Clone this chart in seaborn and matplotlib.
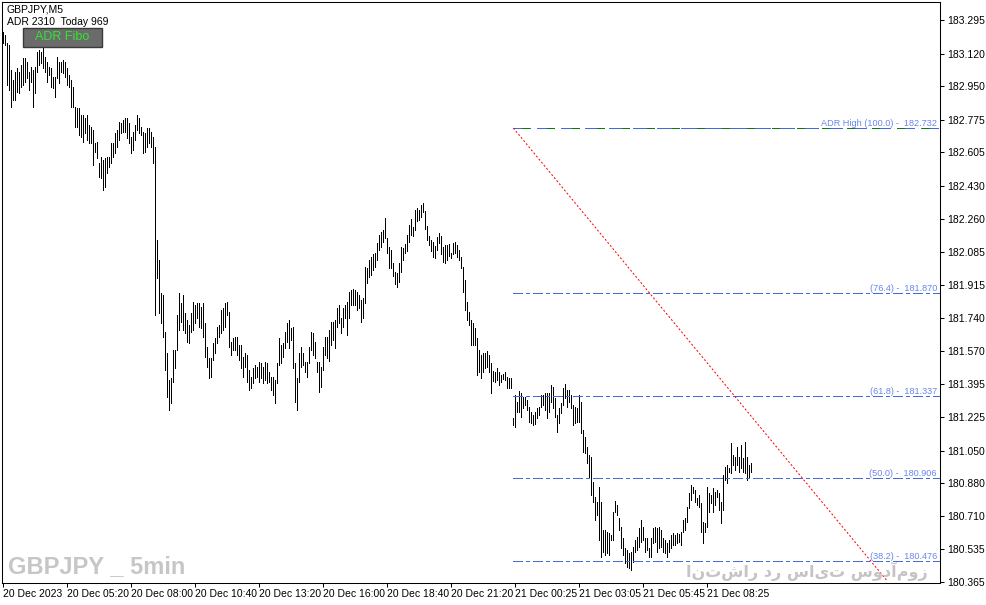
import numpy as np
import pandas as pd
import matplotlib
matplotlib.use("Agg")
import matplotlib.pyplot as plt
import matplotlib.transforms as mtransforms
from matplotlib.patches import Rectangle
import seaborn as sns

# ---------------- data ----------------
highs = [
183.232,183.217,183.174,183.164,183.034,182.982,183.024,183.044,183.024,183.060,
183.096,183.096,183.076,183.024,183.050,183.034,183.050,183.128,183.138,183.128,
183.154,183.102,183.076,183.050,183.044,182.998,182.998,183.102,183.076,183.076,
183.086,183.076,183.044,183.008,182.982,182.946,182.842,182.836,182.836,182.799,
182.799,182.784,182.799,182.747,182.737,182.721,182.654,182.659,182.549,182.581,
182.565,182.575,182.581,182.581,182.654,182.654,182.706,182.721,182.763,182.758,
182.773,182.784,182.784,182.758,182.685,182.711,182.747,182.799,182.784,182.737,
182.711,182.706,182.732,182.732,182.711,182.685,182.633,182.148,182.043,181.871,
181.861,181.668,181.558,181.418,181.428,181.574,181.574,181.757,181.871,181.819,
181.861,181.767,181.731,181.705,181.767,181.825,181.809,181.819,181.819,181.798,
181.819,181.715,181.590,181.532,181.532,181.611,181.637,181.694,181.705,181.783,
181.793,181.819,181.825,181.772,181.616,181.637,181.642,181.642,181.600,181.600,
181.537,181.558,181.548,181.470,181.434,181.480,181.496,181.486,181.512,181.506,
181.486,181.512,181.506,181.460,181.434,181.434,181.418,181.506,181.637,181.600,
181.611,181.668,181.715,181.731,181.689,181.694,181.506,181.428,181.558,181.590,
181.558,181.512,181.512,181.590,181.668,181.663,181.616,181.512,181.512,181.486,
181.590,181.642,181.642,181.678,181.720,181.720,181.731,181.793,181.809,181.741,
181.793,181.809,181.825,181.877,181.887,181.892,181.887,181.877,181.861,181.835,
181.845,182.007,182.002,182.043,182.059,182.075,182.080,182.132,182.174,182.190,
182.200,182.262,182.158,182.111,182.095,182.028,181.981,181.976,182.028,182.111,
182.106,182.127,182.174,182.226,182.257,182.215,182.304,182.314,182.304,182.330,
182.341,182.299,182.221,182.169,182.148,182.137,182.116,182.163,182.184,182.169,
182.111,182.122,182.122,182.127,182.080,182.132,182.137,182.122,182.095,182.059,
182.007,181.939,181.825,181.772,181.731,181.715,181.689,181.637,181.574,181.548,
181.558,181.558,181.569,181.548,181.506,181.465,181.460,181.480,181.460,181.444,
181.449,181.460,181.434,181.428,181.428,181.220,181.340,181.303,181.361,181.350,
181.329,181.329,181.313,181.277,181.251,181.235,181.251,181.272,181.277,181.340,
181.340,181.350,181.350,181.350,181.392,181.381,181.324,181.235,181.272,181.298,
181.376,181.397,181.366,181.366,181.340,181.288,181.277,181.272,181.340,181.303,
181.157,181.121,181.069,181.027,181.016,180.886,180.808,180.782,180.860,180.782,
180.636,180.636,180.625,180.620,180.610,180.730,180.787,180.766,180.699,180.652,
180.594,180.542,180.531,180.516,180.521,180.547,180.584,180.599,180.646,180.688,
180.652,180.594,180.594,180.542,180.594,180.646,180.652,180.646,180.652,180.636,
180.594,180.584,180.568,180.584,180.610,180.620,180.610,180.620,180.615,180.625,
180.688,180.699,180.756,180.829,180.870,180.860,180.844,180.803,180.818,180.777,
180.678,180.672,180.860,180.829,180.818,180.855,180.834,180.844,180.829,180.782,
180.922,180.964,180.975,180.959,181.089,181.027,181.016,181.069,181.016,181.079,
181.011,181.095,181.016,180.975,180.985]

lows = [
183.174,183.164,182.956,182.930,182.842,182.878,182.878,182.920,182.914,182.946,
182.956,182.972,182.992,182.930,182.972,182.842,182.914,183.024,183.060,183.070,
183.044,183.024,182.972,183.008,182.946,182.940,182.893,182.992,182.966,183.024,
183.018,182.998,182.956,182.946,182.842,182.842,182.737,182.737,182.695,182.685,
182.659,182.706,182.669,182.654,182.654,182.539,182.607,182.575,182.477,182.471,
182.408,182.424,182.497,182.529,182.549,182.581,182.601,182.633,182.669,182.706,
182.711,182.711,182.680,182.654,182.601,182.617,182.669,182.721,182.706,182.695,
182.601,182.607,182.633,182.654,182.633,182.549,181.757,181.949,181.767,181.715,
181.642,181.470,181.329,181.261,181.298,181.408,181.480,181.574,181.678,181.720,
181.678,181.663,181.616,181.611,181.668,181.678,181.715,181.741,181.694,181.689,
181.642,181.537,181.486,181.428,181.434,181.522,181.558,181.611,181.642,181.663,
181.678,181.694,181.757,181.590,181.548,181.574,181.574,181.548,181.522,181.480,
181.434,181.486,181.408,181.366,181.376,181.402,181.428,181.434,181.408,181.428,
181.402,181.418,181.402,181.408,181.366,181.340,181.298,181.402,181.496,181.506,
181.537,181.585,181.616,181.585,181.626,181.480,181.303,181.261,181.408,181.486,
181.496,181.460,181.434,181.506,181.574,181.548,181.532,181.460,181.355,181.381,
181.470,181.548,181.532,181.517,181.600,181.626,181.585,181.694,181.715,181.663,
181.694,181.741,181.652,181.741,181.809,181.809,181.809,181.783,181.793,181.720,
181.741,181.819,181.923,181.955,181.965,181.991,182.007,182.043,182.095,182.111,
182.137,182.158,182.080,182.002,182.002,181.960,181.918,181.903,181.929,181.981,
182.043,182.080,182.090,182.137,182.174,182.169,182.200,182.247,182.252,182.268,
182.294,182.205,182.148,182.122,182.090,182.059,182.054,182.095,182.132,182.075,
182.033,182.028,182.043,182.064,182.054,182.075,182.080,182.059,182.043,182.002,
181.877,181.783,181.731,181.705,181.600,181.600,181.600,181.444,181.460,181.428,
181.460,181.480,181.486,181.460,181.350,181.413,181.408,181.418,181.392,181.408,
181.423,181.418,181.376,181.376,181.376,181.183,181.173,181.251,181.251,181.225,
181.272,181.288,181.261,181.199,181.194,181.183,181.189,181.220,181.235,181.277,
181.288,181.261,181.220,181.251,181.303,181.272,181.225,181.147,181.194,181.246,
181.288,181.324,181.277,181.303,181.272,181.183,181.194,181.199,181.199,181.142,
181.042,181.037,180.985,180.912,180.818,180.782,180.688,180.714,180.584,180.495,
180.521,180.505,180.516,180.505,180.584,180.584,180.730,180.714,180.636,180.542,
180.505,180.464,180.443,180.438,180.427,180.469,180.521,180.531,180.547,180.573,
180.584,180.521,180.531,180.495,180.495,180.568,180.573,180.521,180.542,180.547,
180.521,180.516,180.495,180.521,180.542,180.557,180.557,180.568,180.573,180.557,
180.625,180.636,180.678,180.750,180.792,180.829,180.782,180.766,180.756,180.625,
180.568,180.625,180.652,180.730,180.777,180.730,180.766,180.808,180.740,180.672,
180.740,180.896,180.881,180.938,180.933,180.975,180.949,180.975,180.938,180.959,
180.938,180.933,180.896,180.907,180.938]

fibo_names = ["ADR High (100.0)", "(76.4)", "(61.8)", "(50.0)", "(38.2)"]
fibo_values = [182.732, 181.870, 181.337, 180.906, 180.476]
fibo_start_bar = 255

diag_bars = [255, 442]
diag_prices = [182.732, 180.370]

price_ticks = [183.295, 183.120, 182.950, 182.775, 182.605, 182.430, 182.260,
               182.085, 181.915, 181.740, 181.570, 181.395, 181.225, 181.050,
               180.880, 180.710, 180.535, 180.365]

time_tick_bars = [0, 32, 64, 96, 128, 160, 192, 224, 256, 288, 320, 352]
time_tick_labels = ["20 Dec 2023", "20 Dec 05:20", "20 Dec 08:00", "20 Dec 10:40",
                    "20 Dec 13:20", "20 Dec 16:00", "20 Dec 18:40", "20 Dec 21:20",
                    "21 Dec 00:25", "21 Dec 03:05", "21 Dec 05:45", "21 Dec 08:25"]

symbol_title = "GBPJPY,M5"
adr_info = "ADR 2310  Today 969"
button_label = "ADR Fibo"
watermark_left = "GBPJPY _ 5min"
watermark_right = "انتشار در سایت سودآموز"

# ---------------- style ----------------
sns.set_theme(style="white")
plt.rcParams["font.family"] = ["Liberation Sans", "DejaVu Sans"]
plt.rcParams["axes.linewidth"] = 0.75

W, H = 987, 605
fig = plt.figure(figsize=(W / 100, H / 100), dpi=100)
fig.patch.set_facecolor("white")
ax = fig.add_axes([2 / W, (H - 583) / H, 938 / W, 581 / H])
ax.set_facecolor("white")

# OHLC bars (high-low) as vertical segments via seaborn
n = len(highs)
df = pd.DataFrame({"bar": np.arange(n), "high": highs, "low": lows})
long_df = df.melt(id_vars="bar", value_vars=["low", "high"], value_name="price")
sns.lineplot(data=long_df, x="bar", y="price", units="bar", estimator=None,
             color="black", linewidth=0.5, sort=False, legend=False, ax=ax,
             antialiased=False, solid_capstyle="butt")

x_left, x_right = -0.65, 468.35
ax.set_xlim(x_left, x_right)
ax.set_ylim(180.360, 183.389)

# Fibo levels
line_blue = "#4169E1"
text_blue = "#6A86EC"
lw = 0.72
trans = mtransforms.blended_transform_factory(ax.transAxes, ax.transData)
for name, v in zip(fibo_names, fibo_values):
    if name.startswith("ADR High"):
        ax.plot([fibo_start_bar, x_right], [v, v], color=line_blue, lw=lw,
                linestyle=(0, (18, 6)), antialiased=False)
        ax.plot([fibo_start_bar, x_right], [v, v], color="#0A7A0A", lw=lw,
                linestyle=(16, (7, 17)), antialiased=False)
    else:
        ax.plot([fibo_start_bar, x_right], [v, v], color=line_blue, lw=lw,
                linestyle=(0, (10, 4, 3, 4)), antialiased=False)
    ax.text(0.9968, v, f"{name} -  {v:.3f}", transform=trans, ha="right",
            va="bottom", color=text_blue, fontsize=6.6)

# red dotted diagonal
ax.plot(diag_bars, diag_prices, color="red", lw=lw, linestyle=(0, (2, 2)))

# axes / ticks
for s in ax.spines.values():
    s.set_color("black")
    s.set_linewidth(0.75)
    s.set_visible(True)
ax.yaxis.tick_right()
ax.set_yticks(price_ticks)
ax.set_yticklabels([f"{t:.3f}" for t in price_ticks])
ax.set_xticks(time_tick_bars)
ax.set_xticklabels(time_tick_labels, ha="left")
ax.tick_params(axis="y", which="both", right=True, left=False, direction="out",
               length=3, width=0.75, pad=2.5, labelsize=7.5, colors="black")
ax.tick_params(axis="x", which="both", bottom=True, direction="out",
               length=3, width=0.75, pad=1.5, labelsize=7.5, colors="black")
ax.set_xlabel("")
ax.set_ylabel("")
ax.grid(False)

# top-left info
fig.text(7 / W, 1 - 10 / H, symbol_title, fontsize=7.5, color="black", va="center")
fig.text(7 / W, 1 - 22 / H, adr_info, fontsize=7.5, color="black", va="center")

# button
btn = Rectangle((23 / W, 1 - 47 / H), 79 / W, 19 / H, transform=fig.transFigure,
                facecolor="#6B6B6B", edgecolor="#3A3A3A", lw=1, zorder=5)
fig.patches.append(btn)
fig.text(62.5 / W, 1 - 37.5 / H, button_label, fontsize=9, color="#2EE82E",
         ha="center", va="center", zorder=6)

# watermarks
fig.text(8 / W, 1 - 567 / H, watermark_left, fontsize=17, fontweight="bold",
         fontstretch="condensed", color="#C6C6C6", va="center", ha="left",
         family=["Liberation Sans"])
fig.text(928 / W, 1 - 581 / H, watermark_right, fontsize=11.5, fontweight="bold",
         color="#C4C4C4", va="bottom", ha="right", family=["DejaVu Sans"])

fig.savefig("out.png", dpi=100, facecolor="white")
